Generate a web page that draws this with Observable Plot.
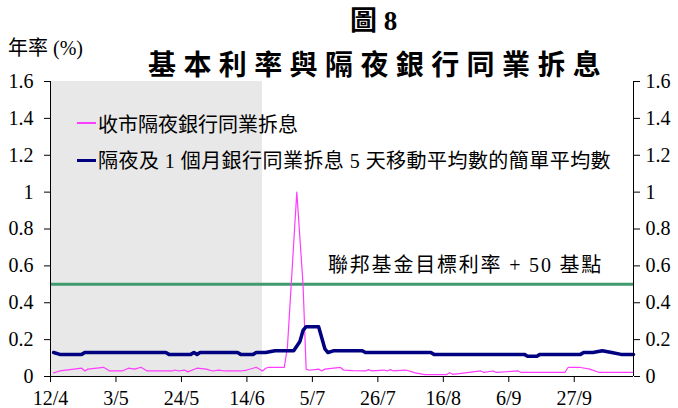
<!DOCTYPE html>
<html>
<head>
<meta charset="utf-8">
<script src="https://cdn.jsdelivr.net/npm/d3@7"></script>
<script src="https://cdn.jsdelivr.net/npm/@observablehq/plot@0.6"></script>
<style>
  html, body { margin: 0; padding: 0; background: #fff; }
  #wrap { position: relative; width: 678px; height: 408px; overflow: hidden;
          font-family: "Liberation Serif", "Times New Roman", "DejaVu Serif", "Noto Sans CJK TC", serif; color: #000; }
  #wrap svg { position: absolute; left: 0; top: 0; }
  .t { position: absolute; white-space: nowrap; line-height: 1; }
  .sw { position: absolute; }
</style>
</head>
<body>
<div id="wrap"></div>
<script>
// ---- data ----
const xStart = "2010-04-12";
const xEnd = "2010-10-16";
const shadeStart = "2010-04-12";
const shadeEnd = "2010-06-19";
const tickDates = ["2010-04-12","2010-05-03","2010-05-24","2010-06-14","2010-07-05","2010-07-26","2010-08-16","2010-09-06","2010-09-27"];
const yTicks = [0, 0.2, 0.4, 0.6, 0.8, 1, 1.2, 1.4, 1.6];
const fedTarget = 0.5;

// 收市隔夜銀行同業拆息
const hiborDates = ["2010-04-13","2010-04-15","2010-04-22","2010-04-23","2010-04-24","2010-04-29","2010-05-01","2010-05-05","2010-05-07","2010-05-09","2010-05-11","2010-05-13","2010-05-21","2010-05-22","2010-05-23","2010-05-25","2010-05-26","2010-05-29","2010-06-01","2010-06-03","2010-06-05","2010-06-07","2010-06-12","2010-06-14","2010-06-16","2010-06-17","2010-06-19","2010-06-20","2010-06-21","2010-06-26","2010-06-27","2010-06-30","2010-07-02","2010-07-03","2010-07-04","2010-07-07","2010-07-08","2010-07-09","2010-07-14","2010-07-15","2010-07-18","2010-07-22","2010-07-23","2010-07-24","2010-07-28","2010-07-29","2010-07-30","2010-07-31","2010-08-04","2010-08-07","2010-08-10","2010-08-17","2010-08-18","2010-08-19","2010-08-23","2010-08-28","2010-08-29","2010-09-01","2010-09-02","2010-09-09","2010-09-10","2010-09-24","2010-09-25","2010-09-29","2010-10-02","2010-10-05","2010-10-16"];
const hiborValues = [0.02,0.03,0.045,0.03,0.04,0.05,0.03,0.03,0.045,0.04,0.05,0.03,0.03,0.035,0.03,0.035,0.025,0.045,0.04,0.03,0.035,0.03,0.03,0.035,0.045,0.05,0.03,0.045,0.05,0.05,0.16,1.0,0.5,0.04,0.034,0.04,0.03,0.04,0.049,0.035,0.032,0.03,0.037,0.03,0.035,0.03,0.037,0.03,0.035,0.02,0.01,0.01,0.02,0.012,0.02,0.03,0.022,0.03,0.022,0.03,0.022,0.022,0.049,0.049,0.04,0.022,0.022];

// 隔夜及 1 個月銀行同業拆息 5 天移動平均數的簡單平均數
const avgDates = ["2010-04-13","2010-04-15","2010-04-22","2010-04-23","2010-05-19","2010-05-20","2010-05-27","2010-05-28","2010-05-29","2010-05-30","2010-06-11","2010-06-12","2010-06-16","2010-06-17","2010-06-20","2010-06-23","2010-06-29","2010-07-01","2010-07-02","2010-07-03","2010-07-07","2010-07-09","2010-07-10","2010-07-12","2010-07-21","2010-07-22","2010-08-12","2010-08-13","2010-09-11","2010-09-12","2010-09-15","2010-09-16","2010-09-29","2010-09-30","2010-10-03","2010-10-06","2010-10-09","2010-10-12","2010-10-16"];
const avgValues = [0.13,0.12,0.12,0.13,0.13,0.12,0.12,0.13,0.12,0.13,0.13,0.12,0.12,0.13,0.13,0.14,0.14,0.19,0.25,0.27,0.27,0.15,0.13,0.14,0.14,0.13,0.13,0.12,0.12,0.11,0.11,0.12,0.12,0.13,0.13,0.14,0.13,0.12,0.12];

const title1 = "圖 8";
const title2 = "基本利率與隔夜銀行同業拆息";
const yUnit = "年率 (%)";
const legend1 = "收市隔夜銀行同業拆息";
const legend2 = "隔夜及 1 個月銀行同業拆息 5 天移動平均數的簡單平均數";
const fedLabel = "聯邦基金目標利率 + 50 基點";

// ---- build ----
const P = d3.utcParse("%Y-%m-%d");
const hibor = hiborDates.map((d, i) => ({date: P(d), v: hiborValues[i]}));
const avg = avgDates.map((d, i) => ({date: P(d), v: avgValues[i]}));
const fmtY = d => String(+d.toFixed(1));
const fmtX = d3.utcFormat("%-d/%-m");

const chart = Plot.plot({
  width: 678, height: 408,
  marginLeft: 50, marginRight: 45, marginTop: 81, marginBottom: 32,
  style: {fontFamily: "'Liberation Serif', 'Times New Roman', 'DejaVu Serif', serif", fontSize: "20px", background: "transparent", color: "#000"},
  x: {type: "utc", domain: [P(xStart), P(xEnd)]},
  y: {domain: [0, 1.6]},
  marks: [
    Plot.rectY([{x1: P(shadeStart), x2: P(shadeEnd)}], {x1: "x1", x2: "x2", y1: 0, y2: 1.6, fill: "#e8e8e8"}),
    Plot.ruleY([fedTarget], {stroke: "#3f9b6e", strokeWidth: 3}),
    Plot.line(hibor, {x: "date", y: "v", stroke: "#ff3cff", strokeWidth: 1.2}),
    Plot.line(avg, {x: "date", y: "v", stroke: "#000080", strokeWidth: 3.5, strokeLinejoin: "round"}),
    Plot.ruleX([P(xStart), P(xEnd)], {stroke: "#000", strokeWidth: 1}),
    Plot.ruleY([0], {stroke: "#000", strokeWidth: 1}),
    Plot.axisY({anchor: "left", ticks: yTicks, tickFormat: fmtY, tickSize: 6, tickPadding: 11, label: null}),
    Plot.axisY({anchor: "right", ticks: yTicks, tickFormat: fmtY, tickSize: 6, tickPadding: 6, label: null}),
    Plot.axisX({ticks: tickDates.map(P), tickFormat: fmtX, tickSize: 6, tickPadding: 8, label: null})
  ]
});

const wrap = document.getElementById("wrap");
wrap.appendChild(chart);

function addText(txt, left, top, size, extra) {
  const el = document.createElement("div");
  el.className = "t";
  el.textContent = txt;
  el.style.left = left + "px";
  el.style.top = top + "px";
  el.style.fontSize = size + "px";
  Object.assign(el.style, extra || {});
  wrap.appendChild(el);
  return el;
}
function addSwatch(left, top, w, h, color) {
  const el = document.createElement("div");
  el.className = "sw";
  Object.assign(el.style, {left: left + "px", top: top + "px", width: w + "px", height: h + "px", background: color});
  wrap.appendChild(el);
}

addText(title1, 350, 8, 27, {fontWeight: "bold"});
addText(title2, 148, 52, 28, {fontWeight: "bold", letterSpacing: "7.4px"});
addText(yUnit, 8, 38, 20);
addSwatch(77, 122, 19, 1.5, "#ff3cff");
addText(legend1, 98, 115, 20);
addSwatch(77, 159, 19, 3, "#000080");
addText(legend2, 98, 151, 20, {letterSpacing: "0.45px"});
addText(fedLabel, 328, 255, 20, {letterSpacing: "1.8px"});
</script>
</body>
</html>
